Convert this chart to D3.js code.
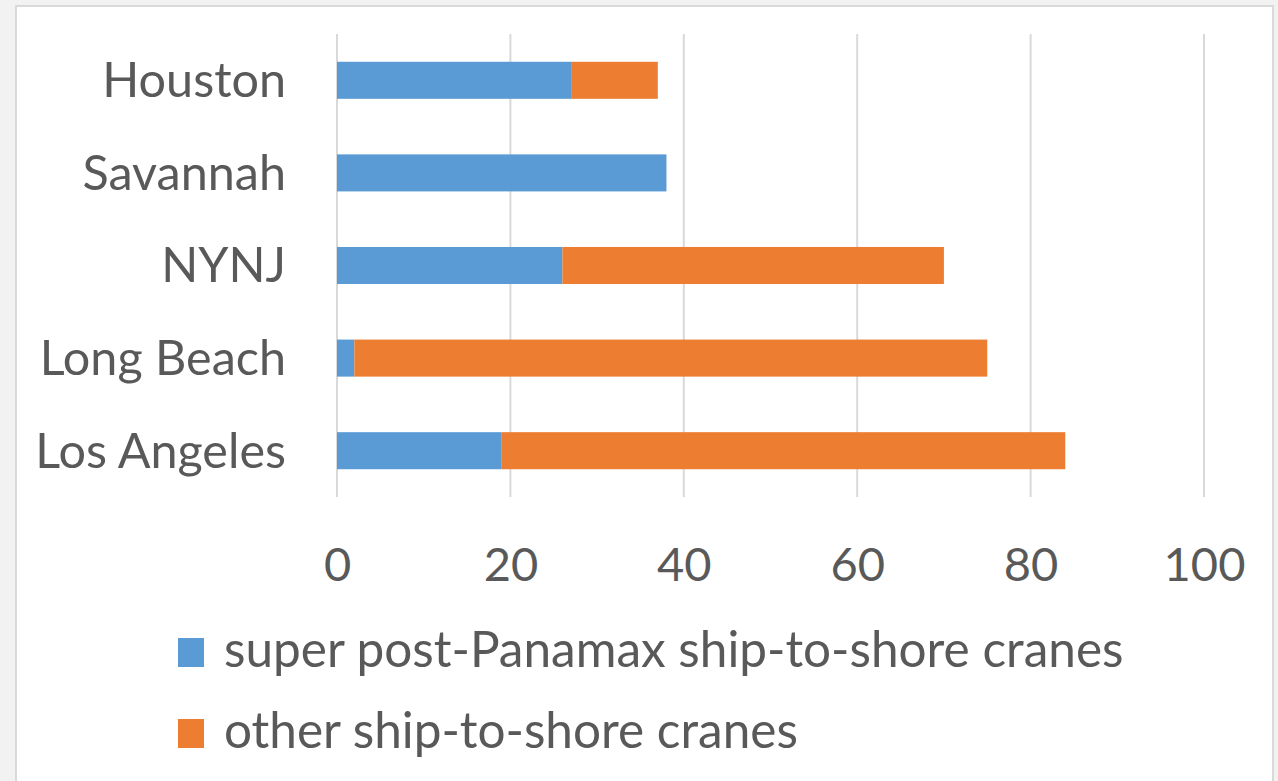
<!DOCTYPE html>
<html>
<head>
<meta charset="utf-8">
<script src="https://cdn.jsdelivr.net/npm/d3@7"></script>
<style>
  html, body { margin: 0; padding: 0; background: #f2f2f2; }
  svg { display: block; }
  text { font-family: Lato, "Open Sans", sans-serif; fill: #595959; }
</style>
</head>
<body>
<svg id="chart" width="1278" height="781"></svg>
<script>
const categories = ["Houston", "Savannah", "NYNJ", "Long Beach", "Los Angeles"];
const superPostPanamax = [27, 38, 26, 2, 19];
const otherCranes = [10, 0, 44, 73, 65];
const seriesNames = ["super post-Panamax ship-to-shore cranes", "other ship-to-shore cranes"];
const xTicks = [0, 20, 40, 60, 80, 100];
const colors = ["#5B9BD5", "#ED7D31"];

const svg = d3.select("#chart");
// panel
svg.append("rect").attr("x", 16).attr("y", 6).attr("width", 1257).attr("height", 790)
  .attr("fill", "#fff").attr("stroke", "#d9d9d9").attr("stroke-width", 2);

const plot = {left: 337, right: 1204, top: 34, bottom: 497};
const x = d3.scaleLinear().domain([0, 100]).range([plot.left, plot.right]);
const y = d3.scaleBand().domain(categories).range([plot.top, plot.bottom])
  .paddingInner(0.6).paddingOuter(0.3);

// gridlines
svg.append("g").selectAll("line").data(xTicks).join("line")
  .attr("x1", d => x(d)).attr("x2", d => x(d))
  .attr("y1", plot.top).attr("y2", plot.bottom)
  .attr("stroke", "#d9d9d9").attr("stroke-width", 2);

// stacked bars
const rows = categories.map((c, i) => ({cat: c, s0: superPostPanamax[i], s1: otherCranes[i]}));
const stack = d3.stack().keys(["s0", "s1"])(rows);
svg.append("g").selectAll("g").data(stack).join("g")
  .attr("fill", (d, i) => colors[i])
  .selectAll("rect").data(d => d).join("rect")
  .attr("x", d => x(d[0]))
  .attr("width", d => x(d[1]) - x(d[0]))
  .attr("y", d => y(d.data.cat))
  .attr("height", y.bandwidth());

// x axis tick labels
const xAxis = d3.axisBottom(x).tickValues(xTicks).tickSize(0).tickPadding(0);
const gx = svg.append("g").attr("transform", `translate(0, 548)`).call(xAxis);
gx.select(".domain").remove();
gx.selectAll("text").attr("font-size", 47).attr("dy", "0.71em")
  .style("font-family", "Lato, sans-serif").attr("fill", "#595959");

// y axis labels
const yAxis = d3.axisLeft(y).tickSize(0).tickPadding(0);
const gy = svg.append("g").attr("transform", `translate(286, 0)`).call(yAxis);
gy.select(".domain").remove();
gy.selectAll("text").attr("font-size", 48.5).attr("dy", "0.35em")
  .style("font-family", "Lato, sans-serif").attr("fill", "#595959");

// legend
const leg = svg.append("g").selectAll("g").data(seriesNames).join("g")
  .attr("transform", (d, i) => `translate(178, ${667 + i * 81})`);
leg.append("rect").attr("x", 0).attr("y", -29).attr("width", 26).attr("height", 29)
  .attr("fill", (d, i) => colors[i]);
leg.append("text").attr("x", 46).attr("y", 0).attr("font-size", 49.5).text(d => d);
</script>
</body>
</html>
